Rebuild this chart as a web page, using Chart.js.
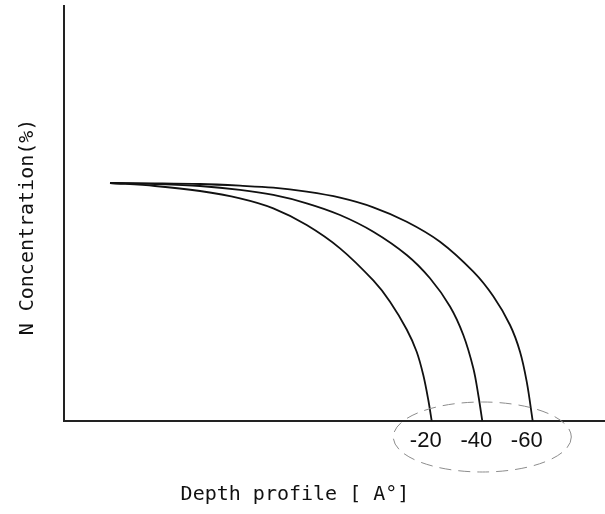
<!DOCTYPE html>
<html>
<head>
<meta charset="utf-8">
<script src="https://cdn.jsdelivr.net/npm/chart.js@4/dist/chart.umd.min.js"></script>
<style>
  html, body { margin: 0; padding: 0; background: #fff; }
  #wrap { width: 605px; height: 514px; position: relative; }
</style>
</head>
<body>
<div id="wrap"><canvas id="c" width="605" height="514"></canvas></div>
<script>
// Depth (arbitrary units, 0..100) and N concentration (arbitrary units, 0..100)
const depth20 = [8.50, 16.82, 25.14, 32.53, 38.69, 44.86, 51.02, 57.17, 60.26, 63.35, 65.19, 66.41, 67.34, 67.97];
const conc20  = [57.35, 56.63, 55.42, 53.66, 51.25, 47.23, 41.61, 33.86, 28.75, 22.05, 16.70, 11.08, 5.06, 0];
const depth40 = [8.50, 16.82, 25.14, 32.53, 38.69, 44.86, 51.02, 57.17, 63.35, 67.65, 71.35, 73.81, 75.66, 76.58, 77.32];
const conc40  = [57.35, 57.11, 56.63, 55.71, 54.46, 52.46, 49.64, 45.61, 40.00, 34.39, 27.59, 20.72, 12.70, 6.27, 0];
const depth60 = [8.50, 16.82, 25.14, 32.53, 38.69, 44.86, 51.02, 57.17, 63.35, 69.50, 75.66, 79.35, 82.44, 84.29, 85.53, 86.64];
const conc60  = [57.35, 57.28, 57.11, 56.70, 56.22, 55.25, 53.81, 51.49, 48.02, 43.20, 35.98, 30.05, 23.13, 16.70, 9.47, 0];
const seriesLabels = ['-20', '-40', '-60'];
const xTitle = 'Depth profile [ A\u00b0]';
const yTitle = 'N Concentration(%)';

function pts(xs, ys) { return xs.map((x, i) => ({ x: x, y: ys[i] })); }
const allDepths = [depth20, depth40, depth60];
const allConcs = [conc20, conc40, conc60];

const datasets = allDepths.map((d, i) => ({
  label: seriesLabels[i],
  data: pts(d, allConcs[i]),
  borderColor: '#111',
  borderWidth: 1.8,
  pointRadius: 0,
  fill: false,
  tension: 0.35,
  cubicInterpolationMode: 'default'
}));

const annot = {
  id: 'annot',
  afterDraw(chart) {
    const ctx = chart.ctx;
    const xs = chart.scales.x;
    const area = chart.chartArea;
    ctx.save();
    // end labels
    ctx.fillStyle = '#111';
    ctx.font = '22px "Liberation Sans", Arial, sans-serif';
    ctx.textAlign = 'center';
    ctx.textBaseline = 'alphabetic';
    const ends = allDepths.map(d => xs.getPixelForValue(d[d.length - 1]));
    ends.forEach((px, i) => ctx.fillText(seriesLabels[i], px - 6, area.bottom + 26));
    // dashed ellipse around the labels
    ctx.beginPath();
    ctx.setLineDash([12, 7]);
    ctx.strokeStyle = '#8c8c8c';
    ctx.lineWidth = 1;
    ctx.ellipse(ends[1], area.bottom + 16, 89, 35, 0, 0, Math.PI * 2);
    ctx.stroke();
    ctx.setLineDash([]);
    // axis titles
    ctx.fillStyle = '#111';
    ctx.font = '20px "DejaVu Sans Mono", monospace';
    ctx.textAlign = 'center';
    ctx.fillText(xTitle, 295, area.bottom + 79);
    ctx.translate(33, 227);
    ctx.rotate(-Math.PI / 2);
    ctx.fillText(yTitle, 0, 0);
    ctx.restore();
  }
};

new Chart(document.getElementById('c'), {
  type: 'line',
  data: { datasets: datasets },
  options: {
    responsive: false,
    animation: false,
    layout: { padding: { left: 64, top: 6, right: 0, bottom: 93 } },
    plugins: { legend: { display: false }, tooltip: { enabled: false } },
    scales: {
      x: {
        type: 'linear', min: 0, max: 100,
        ticks: { display: false },
        grid: { display: false, drawTicks: false },
        border: { display: true, color: '#222', width: 2 }
      },
      y: {
        type: 'linear', min: 0, max: 100,
        ticks: { display: false },
        grid: { display: false, drawTicks: false },
        border: { display: true, color: '#222', width: 2 }
      }
    }
  },
  plugins: [annot]
});
</script>
</body>
</html>
